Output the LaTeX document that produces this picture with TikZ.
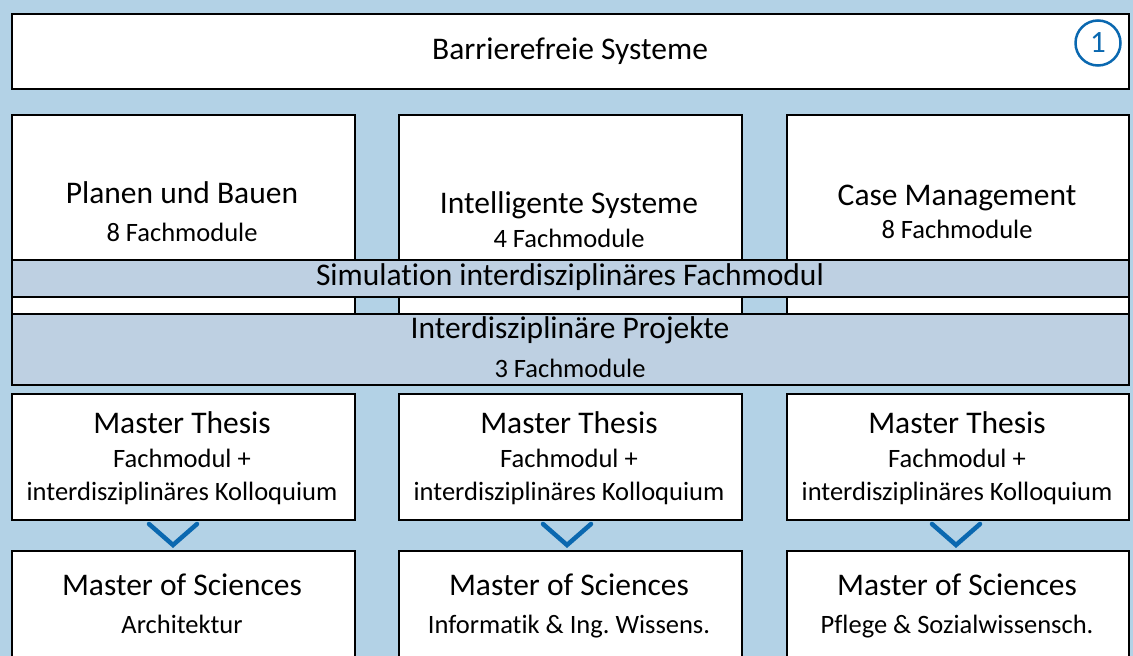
\documentclass[tikz,border=0pt]{standalone}
\usepackage{fontspec}
\setmainfont{Carlito}[Ligatures={NoCommon}]
\frenchspacing
\definecolor{bgblue}{HTML}{B3D2E6}
\definecolor{bandblue}{HTML}{BED0E2}
\definecolor{accent}{HTML}{0A68B0}
\tikzset{
  box/.style={draw=black, fill=white, line width=1.5pt, inner sep=0pt, anchor=north west},
  band/.style={draw=black, fill=bandblue, line width=1.5pt, inner sep=0pt, anchor=north west},
  big/.style={inner sep=0pt, anchor=base, font=\fontsize{31.5pt}{36pt}\selectfont},
  bandtxt/.style={inner sep=0pt, anchor=base, font=\fontsize{31.5pt}{36pt}\selectfont},
  small/.style={inner sep=0pt, anchor=base, font=\fontsize{26.5pt}{30pt}\selectfont},
  chev/.style={draw=accent, line width=4.5pt, line cap=round, line join=miter},
}
\begin{document}
\begin{tikzpicture}[x=1pt,y=-1pt]
\useasboundingbox (0,0) rectangle (1133,656);
\clip (0,0) rectangle (1133,656);
\fill[bgblue] (0,0) rectangle (1133,656);
% top box
\node[box, minimum width=1117pt, minimum height=75pt] (top) at (11,13) {};
\node[big] (toptxt) at (570,59) {Barrierefreie Systeme};
\node[circle, draw=accent, line width=2.5pt, minimum size=45pt, inner sep=0pt, text=accent,
      font=\fontsize{31pt}{34pt}\selectfont] (num) at (1098,43) {1};
% row 2 columns
\node[box, minimum width=343pt, minimum height=199pt] (c1) at (11,114) {};
\node[box, minimum width=343pt, minimum height=199pt] (c2) at (398,114) {};
\node[box, minimum width=342pt, minimum height=199pt] (c3) at (786,114) {};
\node[big] (c1a) at (182,203) {Planen und Bauen};
\node[small] (c1b) at (182,241) {8 Fachmodule};
\node[big] (c2a) at (569,213) {Intelligente Systeme};
\node[small] (c2b) at (569,247) {4 Fachmodule};
\node[big] (c3a) at (957,205) {Case Management};
\node[small] (c3b) at (957,238) {8 Fachmodule};
% bands
\node[band, minimum width=1117pt, minimum height=37pt] (sim) at (11,259) {};
\node[bandtxt] (simtxt) at (570,285) {Simulation interdisziplinäres Fachmodul};
\node[band, minimum width=1117pt, minimum height=71pt] (proj) at (11,313) {};
\node[big] (projtxt) at (570,338) {Interdisziplinäre Projekte};
\node[small] (projsub) at (570,377) {3 Fachmodule};
% row 3
\foreach \i/\x/\w/\c in {1/11/343/182, 2/398/343/569, 3/786/342/957}{
  \node[box, minimum width=\w pt, minimum height=126pt] (t\i) at (\x,393) {};
  \node[big] (t\i a) at (\c,433) {Master Thesis};
  \node[small] (t\i b) at (\c,467) {Fachmodul +};
  \node[small] (t\i c) at (\c,500) {interdisziplinäres Kolloquium};
}
% row 4
\node[box, minimum width=343pt, minimum height=130pt] (m1) at (11,550) {};
\node[box, minimum width=343pt, minimum height=130pt] (m2) at (398,550) {};
\node[box, minimum width=342pt, minimum height=130pt] (m3) at (786,550) {};
\node[big] (m1a) at (182,595) {Master of Sciences};
\node[small] (m1b) at (182,633) {Architektur};
\node[big] (m2a) at (569,595) {Master of Sciences};
\node[small] (m2b) at (569,633) {Informatik \& Ing. Wissens.};
\node[big] (m3a) at (957,595) {Master of Sciences};
\node[small] (m3b) at (957,633) {Pflege \& Sozialwissensch.};
% chevrons
\foreach \i/\x in {1/173, 2/567, 3/956}{
  \coordinate (k\i l) at (\x-24,524);
  \coordinate (k\i m) at (\x,545);
  \coordinate (k\i r) at (\x+24,524);
  \draw[chev] (k\i l) -- (k\i m) -- (k\i r);
}
\end{tikzpicture}
\end{document}
